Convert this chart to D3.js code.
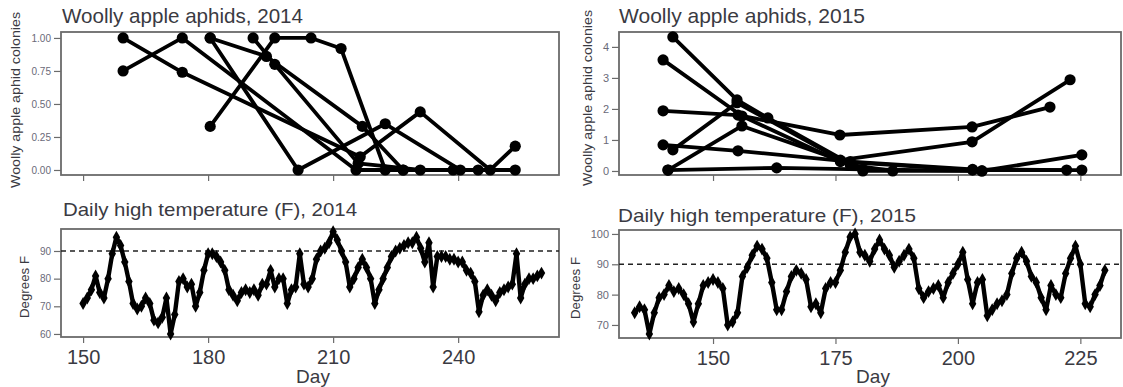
<!DOCTYPE html>
<html><head><meta charset="utf-8">
<script src="https://cdn.jsdelivr.net/npm/d3@7"></script>
<style>body{margin:0;background:#fff}svg{display:block;font-family:"Liberation Sans",Arial,sans-serif}</style>
</head><body><svg id="c" width="1123" height="387"></svg>
<script>
// ---------------- data ----------------
const titles = ["Woolly apple aphids, 2014","Woolly apple aphids, 2015","Daily high temperature (F), 2014","Daily high temperature (F), 2015"];
const aphidYLabel = "Woolly apple aphid colonies";
const tempYLabel = "Degrees F";
const xLabel = "Day";
const xTicks2014 = [150,180,210,240];
const xTicks2015 = [150,175,200,225];
const aphidTicks2014 = [0,0.25,0.5,0.75,1];
const aphidTicks2015 = [0,1,2,3,4];
const tempTicks2014 = [60,70,80,90];
const tempTicks2015 = [70,80,90,100];
const heatThreshold = 90;

// aphid series: each is a list of [day, colonies]
const aphid2014 = [
  [[159.6,1.00],[173.8,0.74],[216.5,0.10],[230.9,0.44],[247.7,0.00],[253.7,0.18]],
  [[159.6,0.75],[173.8,1.00],[215.5,0.00],[226.8,0.00]],
  [[180.5,1.00],[201.6,0.00],[222.5,0.35],[240.5,0.00],[253.7,0.00]],
  [[180.5,0.33],[196.0,1.00],[204.7,1.00],[211.9,0.92],[222.5,0.00],[244.8,0.00]],
  [[180.5,1.00],[194.0,0.86],[217.0,0.33],[226.8,0.00]],
  [[190.8,1.00],[196.0,0.80],[216.0,0.05],[230.9,0.00],[238.8,0.00]]
];
const aphid2015 = [
  [[141.8,4.32],[154.9,2.29],[161.2,1.71],[180.6,0.00],[204.9,0.00]],
  [[139.8,3.58],[155.9,1.77],[176.0,0.30],[203.0,0.03],[225.3,0.03]],
  [[139.8,1.94],[155.1,1.80],[175.9,1.16],[202.9,1.42],[218.8,2.06]],
  [[139.8,0.84],[155.1,0.65],[178.0,0.30],[203.0,0.05],[222.2,0.03]],
  [[141.8,0.68],[154.9,2.20],[178.0,0.20],[186.7,0.00]],
  [[140.8,0.03],[155.9,1.45],[176.0,0.35],[202.9,0.94],[222.9,2.94]],
  [[140.8,0.03],[163.0,0.10],[180.6,0.05],[204.9,0.00],[225.3,0.52]]
];

// daily highs
const tempStart2014 = 150;
const temp2014 = [71,73,76,81,75,73,80,89,95,92,86,79,71,69,70,73,71,65,64,66,73,60,67,79,80,77,78,70,75,83,
  89,89,88,86,83,76,74,72,75,76,75,76,74,78,78,83,77,80,80,71,76,77,89,78,77,80,87,90,91,93,
  97,94,90,86,77,80,84,87,84,80,71,76,80,84,88,90,91,92,93,93,95,91,86,93,77,88,88,88,87,87,
  86,86,83,82,79,68,74,76,74,72,75,76,77,78,89,73,78,80,80,81,82];
const tempStart2015 = 134;
const temp2015 = [74,76,75,67,74,79,80,83,81,82,80,77,71,77,83,84,85,84,82,70,71,74,86,89,93,96,95,92,84,75,
  75,81,86,88,87,85,76,77,74,82,84,84,88,94,99,100,94,93,91,95,98,95,93,89,91,93,95,92,82,79,
  81,82,83,79,84,87,90,94,85,77,84,85,73,75,77,78,80,87,92,94,91,86,84,79,75,83,80,79,87,92,
  96,90,77,76,80,83,88];

// ---------------- drawing ----------------
const svg = d3.select("#c");
const frameCol = "#6b6b6b", textCol = "#3a3a42", tickCol = "#6a6a78";

function panel(o){
  const x = d3.scaleLinear().domain(o.xd).range([o.x0,o.x1]);
  const y = d3.scaleLinear().domain(o.yd).range([o.y1,o.y0]);
  const g = svg.append("g");
  const ya = g.append("g").attr("transform",`translate(${o.x0},0)`)
    .call(d3.axisLeft(y).tickValues(o.yt).tickSize(7).tickPadding(3).tickFormat(o.yf));
  ya.select(".domain").remove();
  ya.selectAll("line").attr("stroke",frameCol).attr("stroke-width",1.2);
  ya.selectAll("text").attr("fill",tickCol).style("font-size",o.ytf+"px");
  const xa = g.append("g").attr("transform",`translate(0,${o.y1})`)
    .call(d3.axisBottom(x).tickValues(o.xt).tickSize(6).tickPadding(7).tickFormat(o.showX? d3.format("d") : ""));
  xa.select(".domain").remove();
  xa.selectAll("line").attr("stroke",frameCol).attr("stroke-width",1.2);
  xa.selectAll("text").attr("fill",textCol).style("font-size","20px");
  g.append("rect").attr("x",o.x0).attr("y",o.y0).attr("width",o.x1-o.x0).attr("height",o.y1-o.y0)
    .attr("fill","none").attr("stroke",frameCol).attr("stroke-width",1.8);
  g.append("text").attr("x",o.tx).attr("y",o.ty).text(o.title)
    .attr("fill",textCol).style("font-size",o.tf+"px").attr("textLength",o.tw).attr("lengthAdjust","spacingAndGlyphs");
  g.append("text").attr("transform",`translate(${o.ylx},${o.yly}) rotate(-90)`).attr("text-anchor","middle")
    .text(o.ylabel).attr("fill",textCol).style("font-size",o.ylf+"px").attr("textLength",o.ylw).attr("lengthAdjust","spacingAndGlyphs");
  if(o.showX){
    g.append("text").attr("x",(o.x0+o.x1)/2+3).attr("y",383).attr("text-anchor","middle").text(xLabel)
      .attr("fill",textCol).style("font-size","19px");
  }
  return {x,y,g};
}

function aphidPanel(o, series){
  const p = panel(o);
  const line = d3.line().x(d=>p.x(d[0])).y(d=>p.y(d[1]));
  const gg = p.g.append("g");
  series.forEach(s=>{
    gg.append("path").datum(s).attr("d",line).attr("fill","none").attr("stroke","#000").attr("stroke-width",3.8).attr("stroke-linejoin","round");
  });
  series.forEach(s=>{
    gg.selectAll(null).data(s).join("circle").attr("cx",d=>p.x(d[0])).attr("cy",d=>p.y(d[1])).attr("r",5.6).attr("fill","#000");
  });
}

function tempPanel(o, start, vals){
  const p = panel(o);
  const data = vals.map((v,i)=>[start+i, v]);
  p.g.append("line").attr("x1",o.x0).attr("x2",o.x1).attr("y1",p.y(heatThreshold)).attr("y2",p.y(heatThreshold))
    .attr("stroke","#222").attr("stroke-width",1.4).attr("stroke-dasharray","5,4");
  const line = d3.line().x(d=>p.x(d[0])).y(d=>p.y(d[1]));
  p.g.append("path").datum(data).attr("d",line).attr("fill","none").attr("stroke","#000").attr("stroke-width",4.4).attr("stroke-linejoin","round");
  const sym = d3.symbol().type(d3.symbolDiamond).size(48);
  p.g.selectAll(null).data(data).join("path").attr("d",sym)
    .attr("transform",d=>`translate(${p.x(d[0])},${p.y(d[1])})`).attr("fill","#000");
}

aphidPanel({x0:61,x1:559,y0:32,y1:175,xd:[144.7,264.2],yd:[-0.038,1.045],yt:aphidTicks2014,yf:d3.format(".2f"),
  xt:xTicks2014,showX:false,title:titles[0],tx:62,ty:23,tf:21,tw:241,ytf:10,
  ylabel:aphidYLabel,ylx:20,yly:100,ylf:12.5,ylw:176}, aphid2014);
aphidPanel({x0:619,x1:1121,y0:32,y1:175,xd:[130.8,233.3],yd:[-0.13,4.48],yt:aphidTicks2015,yf:d3.format("d"),
  xt:xTicks2015,showX:false,title:titles[1],tx:619,ty:23,tf:21,tw:246,ytf:11,
  ylabel:aphidYLabel,ylx:592,yly:98,ylf:12.5,ylw:176}, aphid2015);
tempPanel({x0:61,x1:559,y0:229,y1:337,xd:[144.7,264.2],yd:[58.9,97.95],yt:tempTicks2014,yf:d3.format("d"),
  xt:xTicks2014,showX:true,title:titles[2],tx:63,ty:216,tf:19,tw:294,ytf:10,
  ylabel:tempYLabel,ylx:29,yly:287,ylf:12,ylw:62}, tempStart2014, temp2014);
tempPanel({x0:619,x1:1121,y0:230,y1:338,xd:[130.8,233.3],yd:[65.7,101.3],yt:tempTicks2015,yf:d3.format("d"),
  xt:xTicks2015,showX:true,title:titles[3],tx:618,ty:222,tf:19,tw:298,ytf:11,
  ylabel:tempYLabel,ylx:580,yly:288,ylf:12,ylw:62}, tempStart2015, temp2015);
</script></body></html>
